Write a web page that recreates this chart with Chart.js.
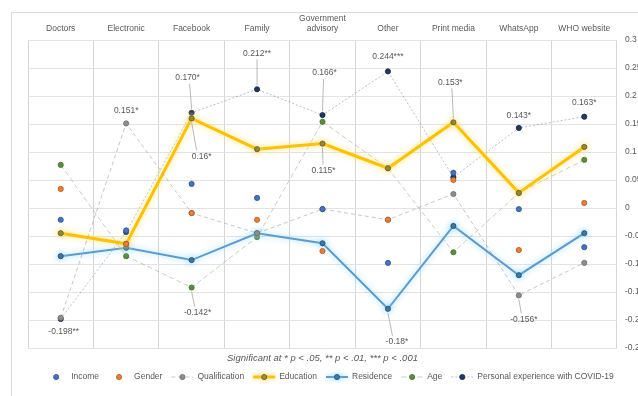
<!DOCTYPE html>
<html>
<head>
<meta charset="utf-8">
<title>Information sources</title>
<script src="https://cdn.jsdelivr.net/npm/chart.js@4.4.0/dist/chart.umd.min.js"></script>
<style>
  html, body { margin: 0; padding: 0; background: #fff; }
  #chart { display: block; }
</style>
</head>
<body>
<canvas id="chart" width="638" height="396"></canvas>
<script>
// categories along the top axis
const categories = ['Doctors', 'Electronic', 'Facebook', 'Family', ['Government', 'advisory'], 'Other', 'Print media', 'WhatsApp', 'WHO website'];

// correlation coefficients per variable
const income        = [-0.021, -0.040, 0.043, 0.018, -0.002, -0.098, 0.063, -0.002, -0.070];
const gender        = [0.034, -0.064, -0.009, -0.021, -0.077, -0.021, 0.050, -0.075, 0.009];
const qualification = [-0.196, 0.151, -0.009, -0.045, -0.002, -0.021, 0.025, -0.156, -0.098];
const education     = [-0.045, -0.064, 0.16, 0.105, 0.115, 0.071, 0.153, 0.027, 0.109];
const residence     = [-0.086, -0.071, -0.093, -0.045, -0.063, -0.18, -0.032, -0.120, -0.045];
const age           = [0.077, -0.086, -0.142, -0.052, 0.154, 0.071, -0.079, 0.027, 0.086];
const personalExp   = [-0.198, -0.043, 0.170, 0.212, 0.166, 0.244, 0.055, 0.143, 0.163];

// right axis range
const yMin = -0.25;
const yMax = 0.3;
const yStep = 0.05;

const noteText = 'Significant at * p < .05, ** p < .01, *** p < .001';

// which points carry a value label, how it is printed and where it sits
const valueLabels = [
  { series: 'Personal experience with COVID-19', index: 0, stars: '**', digits: 3, dx: 3, dy: 13 },
  { series: 'Personal experience with COVID-19', index: 2, stars: '*', digits: 3, dx: -4, dy: -35 },
  { series: 'Personal experience with COVID-19', index: 3, stars: '**', digits: 3, dx: 0, dy: -36 },
  { series: 'Personal experience with COVID-19', index: 4, stars: '*', digits: 3, dx: 2, dy: -42 },
  { series: 'Personal experience with COVID-19', index: 5, stars: '***', digits: 3, dx: 0, dy: -15 },
  { series: 'Personal experience with COVID-19', index: 7, stars: '*', digits: 3, dx: 0, dy: -12 },
  { series: 'Personal experience with COVID-19', index: 8, stars: '*', digits: 3, dx: 0, dy: -14 },
  { series: 'Education', index: 2, stars: '*', digits: 2, dx: 10, dy: 38 },
  { series: 'Education', index: 4, stars: '*', digits: 3, dx: 1, dy: 27 },
  { series: 'Education', index: 6, stars: '*', digits: 3, dx: -3, dy: -40 },
  { series: 'Residence', index: 5, stars: '*', digits: 2, dx: 9, dy: 33 },
  { series: 'Qualification', index: 1, stars: '*', digits: 3, dx: 0, dy: -13 },
  { series: 'Qualification', index: 7, stars: '*', digits: 3, dx: 5, dy: 24 },
  { series: 'Age', index: 2, stars: '*', digits: 3, dx: 6, dy: 25 }
];

const FONT = '"Liberation Sans", Arial, sans-serif';
const TEXT = '#595959';

function markerOnly(label, data, fill, border) {
  return {
    label, data, showLine: false,
    borderColor: fill, backgroundColor: fill,
    pointBackgroundColor: fill, pointBorderColor: border,
    pointRadius: 2.6, pointBorderWidth: 0.8
  };
}

function lined(label, data, line, width, dash, fill, border, glow) {
  return {
    label, data, borderColor: line, borderWidth: width, borderDash: dash,
    backgroundColor: fill, pointBackgroundColor: fill, pointBorderColor: border,
    pointRadius: 2.6, pointBorderWidth: 0.8, tension: 0, glowColor: glow
  };
}

// soft halo behind the thick lines
const glowPlugin = {
  id: 'glow',
  beforeDatasetDraw(chart, args) {
    const ds = chart.data.datasets[args.index];
    if (!ds.glowColor) return;
    chart.ctx.save();
    chart.ctx.shadowColor = ds.glowColor;
    chart.ctx.shadowBlur = 6;
  },
  afterDatasetDraw(chart, args) {
    if (chart.data.datasets[args.index].glowColor) chart.ctx.restore();
  }
};

const labelPlugin = {
  id: 'valueLabels',
  afterDatasetsDraw(chart) {
    const ctx = chart.ctx;
    ctx.save();
    ctx.font = '8.5px ' + FONT;
    ctx.textAlign = 'center';
    ctx.textBaseline = 'middle';
    valueLabels.forEach(l => {
      const di = chart.data.datasets.findIndex(d => d.label === l.series);
      const pt = chart.getDatasetMeta(di).data[l.index];
      const value = chart.data.datasets[di].data[l.index];
      const tx = pt.x + l.dx, ty = pt.y + l.dy;
      if (Math.abs(l.dy) > 18) {
        const s = Math.sign(l.dy);
        ctx.strokeStyle = '#a6a6a6';
        ctx.lineWidth = 0.8;
        ctx.beginPath();
        ctx.moveTo(pt.x, pt.y + s * 4);
        ctx.lineTo(pt.x + l.dx * 0.5, ty - s * 6);
        ctx.stroke();
      }
      ctx.fillStyle = TEXT;
      ctx.fillText(value.toFixed(l.digits) + l.stars, tx, ty);
    });
    ctx.restore();
  }
};

// outer frame, footnote and legend
const framePlugin = {
  id: 'frame',
  beforeDraw(chart) {
    const ctx = chart.ctx;
    ctx.save();
    ctx.strokeStyle = '#d9d9d9';
    ctx.lineWidth = 1;
    ctx.beginPath();
    ctx.moveTo(11.5, chart.height);
    ctx.lineTo(11.5, 12.5);
    ctx.lineTo(chart.width, 12.5);
    ctx.stroke();
    ctx.restore();
  },
  afterDraw(chart) {
    const ctx = chart.ctx;
    const area = chart.chartArea;
    const mid = (area.left + area.right) / 2;
    ctx.save();
    ctx.font = 'italic 9.5px ' + FONT;
    ctx.fillStyle = TEXT;
    ctx.textAlign = 'center';
    ctx.textBaseline = 'middle';
    ctx.fillText(noteText, mid, area.bottom + 10);

    ctx.font = '8.5px ' + FONT;
    ctx.textAlign = 'left';
    const sym = 22, gap = 9;
    const items = chart.data.datasets.map(ds => ({ ds, w: sym + 4 + ctx.measureText(ds.label).width }));
    const total = items.reduce((s, it) => s + it.w, 0) + gap * (items.length - 1);
    let x = mid + 7 - total / 2;
    const y = area.bottom + 29;
    items.forEach(it => {
      const ds = it.ds;
      ctx.save();
      if (ds.glowColor) { ctx.shadowColor = ds.glowColor; ctx.shadowBlur = 5; }
      if (ds.showLine !== false) {
        ctx.strokeStyle = ds.borderColor;
        ctx.lineWidth = ds.borderWidth;
        ctx.setLineDash(ds.borderDash || []);
        ctx.beginPath();
        ctx.moveTo(x, y);
        ctx.lineTo(x + sym, y);
        ctx.stroke();
        ctx.setLineDash([]);
      }
      ctx.fillStyle = ds.pointBackgroundColor;
      ctx.strokeStyle = ds.pointBorderColor;
      ctx.lineWidth = ds.pointBorderWidth;
      ctx.beginPath();
      ctx.arc(x + sym / 2, y, ds.pointRadius, 0, Math.PI * 2);
      ctx.fill();
      ctx.stroke();
      ctx.restore();
      ctx.fillStyle = TEXT;
      ctx.fillText(ds.label, x + sym + 4, y);
      x += it.w + gap;
    });
    ctx.restore();
  }
};

new Chart(document.getElementById('chart'), {
  type: 'line',
  data: {
    labels: categories,
    datasets: [
      markerOnly('Income', income, '#4472C4', '#2f528f'),
      markerOnly('Gender', gender, '#ED7D31', '#ae5a21'),
      lined('Qualification', qualification, 'rgba(160,160,160,0.6)', 1, [4, 3], '#8c8c8c', '#6f6f6f'),
      lined('Education', education, '#FFC000', 3, [], '#8a7a2a', '#6b5d1a', 'rgba(255,225,110,0.95)'),
      lined('Residence', residence, '#5B9BD5', 2, [], '#2e6b9e', '#234f75', 'rgba(140,215,255,0.95)'),
      lined('Age', age, 'rgba(150,170,140,0.55)', 1, [5, 3], '#5a8f3a', '#46702d'),
      lined('Personal experience with COVID-19', personalExp, 'rgba(90,110,170,0.45)', 1, [2, 2], '#1f3864', '#152744')
    ]
  },
  options: {
    responsive: false,
    animation: false,
    devicePixelRatio: 1,
    layout: { padding: { left: 28, top: 12, right: 0, bottom: 48 } },
    plugins: {
      legend: { display: false },
      tooltip: { enabled: false }
    },
    elements: { point: { hoverRadius: 2.6 } },
    scales: {
      x: {
        position: 'top',
        offset: true,
        grid: { offset: true, color: '#d6d6d6', drawTicks: false },
        border: { display: false },
        ticks: { color: TEXT, font: { family: FONT, size: 8.5 }, padding: 6, maxRotation: 0, autoSkip: false },
        afterFit(scale) { scale.height = 28; }
      },
      y: {
        position: 'right',
        min: yMin,
        max: yMax,
        grid: { color: '#e3e3e3', drawTicks: false },
        border: { display: false },
        ticks: {
          stepSize: yStep,
          color: TEXT,
          font: { family: FONT, size: 8.5 },
          padding: 8,
          callback: v => String(+v.toFixed(2))
        },
        afterFit(scale) { scale.width = 21; }
      }
    }
  },
  plugins: [glowPlugin, labelPlugin, framePlugin]
});
</script>
</body>
</html>
